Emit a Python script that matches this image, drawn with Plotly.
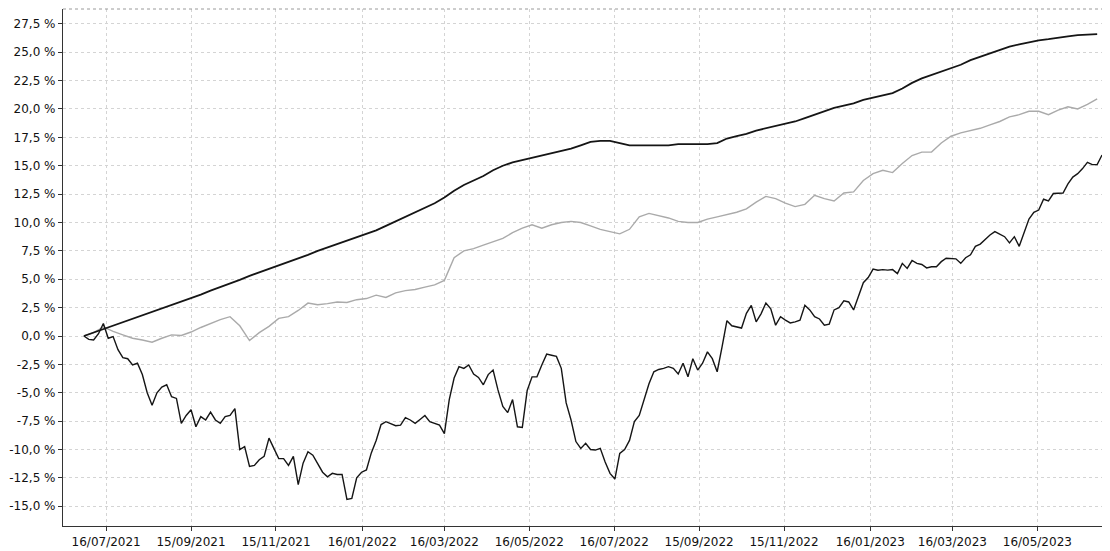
import pandas as pd
import plotly.graph_objects as go

# Weekly observation dates for the two smoother series (30/06/2021 .. 28/06/2023)
start_date = "2021-06-30"
n_weeks = 105
# Half-weekly observations for the volatile series
n_half_weeks = 210

# Top smooth black series (%)
series_top = [
    0.0, 0.3, 0.6, 0.9, 1.2, 1.5, 1.8, 2.1, 2.4, 2.7,
    3.0, 3.3, 3.65, 4.0, 4.3, 4.6, 4.95, 5.3, 5.6, 5.9,
    6.2, 6.55, 6.85, 7.15, 7.5, 7.8, 8.1, 8.4, 8.7, 9.0,
    9.3, 9.7, 10.1, 10.5, 10.9, 11.3, 11.7, 12.2, 12.8, 13.3,
    13.7, 14.1, 14.6, 15.0, 15.3, 15.5, 15.7, 15.9, 16.1, 16.3,
    16.5, 16.8, 17.1, 17.2, 17.2, 17.0, 16.8, 16.8, 16.8, 16.8,
    16.8, 16.9, 16.9, 16.9, 16.9, 17.0, 17.4, 17.6, 17.8, 18.1,
    18.3, 18.5, 18.7, 18.9, 19.2, 19.5, 19.8, 20.1, 20.3, 20.5,
    20.8, 21.0, 21.2, 21.4, 21.8, 22.3, 22.7, 23.0, 23.3, 23.6,
    23.9, 24.3, 24.6, 24.9, 25.2, 25.5, 25.7, 25.9, 26.05, 26.15,
    26.3, 26.4, 26.5, 26.55, 26.6,
]

# Grey series (%)
series_grey = [
    0.0, 0.3, 0.8, 0.4, 0.1, -0.2, -0.35, -0.55, -0.2, 0.1,
    0.05, 0.35, 0.75, 1.1, 1.45, 1.7, 0.9, -0.4, 0.3, 0.85,
    1.55, 1.7, 2.25, 2.9, 2.75, 2.85, 3.0, 2.95, 3.2, 3.3,
    3.6, 3.4, 3.8, 4.0, 4.1, 4.3, 4.5, 4.9, 6.9, 7.5,
    7.7, 8.0, 8.3, 8.6, 9.1, 9.5, 9.8, 9.5, 9.8, 10.0,
    10.1, 10.0, 9.7, 9.4, 9.2, 9.0, 9.4, 10.5, 10.8, 10.6,
    10.4, 10.1, 10.0, 10.0, 10.3, 10.5, 10.7, 10.9, 11.2, 11.8,
    12.3, 12.1, 11.7, 11.4, 11.6, 12.4, 12.1, 11.9, 12.6, 12.7,
    13.7, 14.3, 14.6, 14.4, 15.2, 15.9, 16.2, 16.2, 17.0, 17.6,
    17.9, 18.1, 18.3, 18.6, 18.9, 19.3, 19.5, 19.8, 19.8, 19.5,
    19.9, 20.2, 20.0, 20.4, 20.9,
]

# Volatile black series (%), half-weekly
series_vol = [
    0.0, -0.3, -0.35, 0.2, 1.1, -0.2, -0.05, -1.2, -1.9, -2.0,
    -2.55, -2.4, -3.4, -5.0, -6.1, -5.0, -4.5, -4.3, -5.35, -5.5,
    -7.7, -7.0, -6.5, -8.0, -7.1, -7.4, -6.7, -7.4, -7.7, -7.1,
    -7.0, -6.4, -10.0, -9.75, -11.5, -11.4, -10.9, -10.6, -9.0, -9.9,
    -10.8, -10.8, -11.4, -10.6, -13.1, -11.2, -10.2, -10.5, -11.2, -12.0,
    -12.4, -12.1, -12.2, -12.2, -14.4, -14.3, -12.5, -12.0, -11.8, -10.3,
    -9.2, -7.8, -7.55, -7.7, -7.9, -7.85, -7.2, -7.4, -7.7, -7.35,
    -7.0, -7.55, -7.7, -7.85, -8.6, -5.6, -3.7, -2.7, -2.85, -2.55,
    -3.35, -3.65, -4.3, -3.4, -3.0, -4.75, -6.2, -6.75, -5.6, -8.0,
    -8.05, -4.8, -3.6, -3.6, -2.55, -1.6, -1.7, -1.8, -2.85, -5.9,
    -7.4, -9.3, -9.9, -9.45, -10.0, -10.05, -9.9, -11.1, -12.1, -12.6,
    -10.35, -10.0, -9.2, -7.55, -7.0, -5.5, -4.2, -3.15, -2.95, -2.85,
    -2.7, -2.85, -3.35, -2.4, -3.6, -2.0, -3.0, -2.4, -1.4, -2.0,
    -3.15, -0.95, 1.35, 0.9, 0.8, 0.7, 2.0, 2.7, 1.25, 1.95,
    2.9, 2.4, 0.95, 1.7, 1.4, 1.15, 1.25, 1.4, 2.7, 2.3,
    1.7, 1.5, 0.95, 1.05, 2.3, 2.5, 3.1, 3.0, 2.3, 3.6,
    4.7, 5.15, 5.9, 5.8, 5.85, 5.8, 5.85, 5.5, 6.4, 5.95,
    6.65, 6.4, 6.3, 6.0, 6.1, 6.1, 6.55, 6.85, 6.85, 6.8,
    6.4, 6.9, 7.15, 7.9, 8.1, 8.5, 8.9, 9.2, 9.0, 8.75,
    8.2, 8.75, 7.9, 9.05, 10.3, 10.9, 11.1, 12.05, 11.9, 12.55,
    12.6, 12.6, 13.4, 14.0, 14.3, 14.75, 15.3, 15.1, 15.1, 15.95,
]

# Axis ticks
x_tick_dates = [
    "2021-07-16", "2021-09-15", "2021-11-15", "2022-01-16", "2022-03-16",
    "2022-05-16", "2022-07-16", "2022-09-15", "2022-11-15", "2023-01-16",
    "2023-03-16", "2023-05-16",
]
y_tick_values = [-15.0, -12.5, -10.0, -7.5, -5.0, -2.5, 0.0, 2.5, 5.0, 7.5,
                 10.0, 12.5, 15.0, 17.5, 20.0, 22.5, 25.0, 27.5]
y_tick_labels = [f"{v:.1f} %".replace(".", ",") for v in y_tick_values]
x_tick_labels = [pd.Timestamp(d).strftime("%d/%m/%Y") for d in x_tick_dates]

dates_weekly = pd.date_range(start=start_date, periods=n_weeks, freq="7D")
dates_half = pd.date_range(start=start_date, periods=n_half_weeks, freq="84h")

fig = go.Figure()
fig.add_trace(go.Scatter(x=dates_weekly, y=series_grey, mode="lines",
                         line=dict(color="#aaaaaa", width=1.4), showlegend=False))
fig.add_trace(go.Scatter(x=dates_weekly, y=series_top, mode="lines",
                         line=dict(color="#151515", width=1.8), showlegend=False))
fig.add_trace(go.Scatter(x=dates_half, y=series_vol, mode="lines",
                         line=dict(color="#151515", width=1.4), showlegend=False))

fig.update_layout(
    width=1102, height=543,
    margin=dict(l=55, r=1, t=1, b=25),
    paper_bgcolor="white", plot_bgcolor="white",
    font=dict(family="DejaVu Sans", size=12, color="#111111"),
    showlegend=False,
)
fig.update_xaxes(
    range=["2021-06-15", "2023-07-06 12:00"],
    tickvals=x_tick_dates, ticktext=x_tick_labels,
    showgrid=True, gridcolor="#d4d4d4", griddash="dot", gridwidth=1,
    showline=True, linecolor="#333333", linewidth=1.2,
    ticks="outside", ticklen=4, tickcolor="#333333",
    tickfont=dict(family="DejaVu Sans", size=12, color="#111111"),
    zeroline=False,
)
fig.update_yaxes(
    range=[-16.74, 28.81],
    tickvals=y_tick_values, ticktext=y_tick_labels,
    showgrid=True, gridcolor="#d4d4d4", griddash="dot", gridwidth=1,
    showline=True, linecolor="#333333", linewidth=1.2,
    ticks="outside", ticklen=4, tickcolor="#333333",
    tickfont=dict(family="DejaVu Sans", size=12, color="#111111"),
    zeroline=False,
)
# dotted top frame line
fig.add_shape(type="line", xref="paper", yref="paper", x0=0, x1=1, y0=1, y1=1,
              line=dict(color="#9a9a9a", width=1, dash="dot"))

fig.write_html("out.html")
